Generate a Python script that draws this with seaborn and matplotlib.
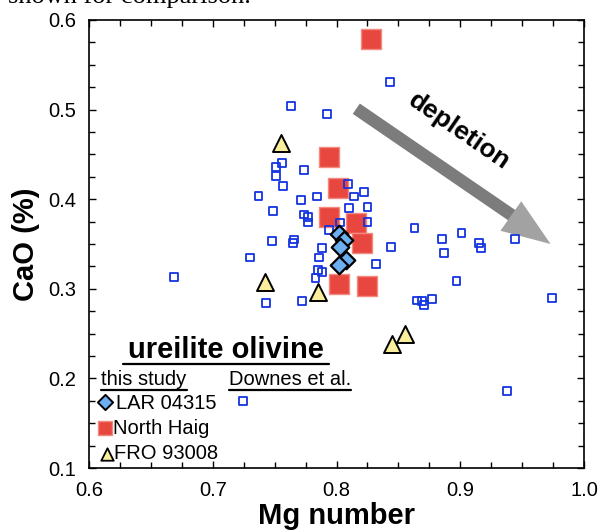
import matplotlib
matplotlib.use("Agg")
import matplotlib.pyplot as plt
import seaborn as sns
import pandas as pd
from matplotlib.ticker import MultipleLocator

# Downes et al. olivine cores
downes_mg = [0.843, 0.763, 0.792, 0.756, 0.751, 0.751, 0.774, 0.757, 0.737, 0.771,
             0.784, 0.809, 0.814, 0.822, 0.825, 0.810, 0.749, 0.774, 0.777, 0.777,
             0.794, 0.825, 0.803, 0.748, 0.766, 0.765, 0.788, 0.844, 0.730, 0.786,
             0.832, 0.785, 0.788, 0.783, 0.669, 0.743, 0.772, 0.863, 0.885, 0.901,
             0.887, 0.915, 0.917, 0.944, 0.897, 0.865, 0.869, 0.871, 0.877, 0.974,
             0.938]
downes_cao = [0.531, 0.504, 0.495, 0.440, 0.436, 0.426, 0.433, 0.415, 0.404, 0.399,
              0.403, 0.417, 0.403, 0.408, 0.391, 0.390, 0.387, 0.383, 0.380, 0.374,
              0.366, 0.375, 0.374, 0.353, 0.355, 0.351, 0.346, 0.347, 0.335, 0.335,
              0.328, 0.321, 0.319, 0.312, 0.313, 0.284, 0.286, 0.368, 0.356, 0.362,
              0.340, 0.351, 0.346, 0.356, 0.309, 0.287, 0.286, 0.282, 0.289, 0.290,
              0.186]

# this study
nh_mg = [0.828, 0.794, 0.801, 0.794, 0.816, 0.821, 0.802, 0.825]
nh_cao = [0.579, 0.447, 0.412, 0.380, 0.373, 0.351, 0.305, 0.303]

lar_mg = [0.802, 0.806, 0.803, 0.808, 0.802]
lar_cao = [0.361, 0.355, 0.347, 0.332, 0.327]

fro_mg = [0.755, 0.742, 0.785, 0.855, 0.845]
fro_cao = [0.463, 0.308, 0.296, 0.250, 0.238]

sns.set_style("ticks")
plt.rcParams["font.family"] = ["Liberation Sans", "DejaVu Sans"]
for k in ["text.color", "axes.labelcolor", "xtick.color", "ytick.color", "axes.edgecolor"]:
    plt.rcParams[k] = "black"

fig = plt.figure(figsize=(5.99, 5.31), dpi=100)
ax = fig.add_axes([89 / 599, 63 / 531, 495 / 599, 448 / 531])

BLUE = "#1434e0"
RED = "#e8473f"
LBLUE = "#6cb0f2"
YEL = "#f8ee9c"

sns.scatterplot(x=nh_mg, y=nh_cao, marker="s", s=210, color=RED,
                edgecolor="#f28a80", linewidth=1.0, ax=ax, zorder=2)
sns.scatterplot(x=downes_mg, y=downes_cao, marker="s", s=32, facecolor="none",
                edgecolor=BLUE, linewidth=1.3, ax=ax, zorder=3)
sns.scatterplot(x=lar_mg, y=lar_cao, marker="D", s=80, color=LBLUE,
                edgecolor="black", linewidth=1.6, ax=ax, zorder=4)
sns.scatterplot(x=fro_mg, y=fro_cao, marker="^", s=150, color=YEL,
                edgecolor="black", linewidth=1.4, ax=ax, zorder=5)

# depletion arrow: dark shaft, lighter head
ax.annotate("", xy=(0.946, 0.378), xytext=(0.816, 0.501),
            arrowprops=dict(arrowstyle="-", color="#7c7c7c", lw=9, capstyle="butt",
                            shrinkA=0, shrinkB=0), zorder=1)
ax.annotate("", xy=(0.973, 0.350), xytext=(0.936, 0.386),
            arrowprops=dict(arrowstyle="simple,head_width=2.6,head_length=3.5,tail_width=0.01",
                            mutation_scale=10, color="#a2a2a2", lw=0,
                            shrinkA=0, shrinkB=0), zorder=1)
ax.text(0.899, 0.476, "depletion", rotation=-34.5, rotation_mode="anchor",
        ha="center", va="center", fontsize=19, fontweight="bold")

ax.set_xlim(0.6, 1.0)
ax.set_ylim(0.1, 0.6)
ax.xaxis.set_major_locator(MultipleLocator(0.1))
ax.xaxis.set_minor_locator(MultipleLocator(0.025))
ax.yaxis.set_major_locator(MultipleLocator(0.1))
ax.yaxis.set_minor_locator(MultipleLocator(0.025))
ax.set_xticklabels([f"{v:.1f}" for v in ax.get_xticks()])
ax.set_yticklabels([f"{v:.1f}" for v in ax.get_yticks()])
ax.tick_params(which="both", direction="in", top=True, right=True, width=1.0,
               labelsize=14.5, pad=9)
ax.tick_params(which="major", length=5)
ax.tick_params(which="minor", length=4)
for sp in ax.spines.values():
    sp.set_linewidth(1.2)
    sp.set_visible(True)
ax.set_xlabel("Mg number", fontsize=21, fontweight="bold", labelpad=2)
ax.set_ylabel("CaO (%)", fontsize=21, fontweight="bold", labelpad=6)

# legend block
tr = ax.transAxes
ax.text(0.277, 0.246, "ureilite olivine", transform=tr, ha="center", va="baseline",
        fontsize=21, fontweight="bold")
ax.plot([0.069, 0.484], [0.233, 0.233], transform=tr, color="black", lw=1.6)
ax.text(0.025, 0.185, "this study", transform=tr, ha="left", va="baseline", fontsize=14.5)
ax.plot([0.025, 0.198], [0.174, 0.174], transform=tr, color="black", lw=1.6)
ax.text(0.283, 0.185, "Downes et al.", transform=tr, ha="left", va="baseline", fontsize=14.5)
ax.plot([0.283, 0.530], [0.174, 0.174], transform=tr, color="black", lw=1.6)

ax.scatter([0.032], [0.148], transform=tr, marker="D", s=60, color=LBLUE,
           edgecolor="black", linewidth=1.4, clip_on=False)
ax.text(0.054, 0.132, "LAR 04315", transform=tr, ha="left", va="baseline", fontsize=14.5)
ax.scatter([0.033], [0.089], transform=tr, marker="s", s=110, color=RED,
           edgecolor="#f28a80", linewidth=1.0, clip_on=False)
ax.text(0.049, 0.076, "North Haig", transform=tr, ha="left", va="baseline", fontsize=14.5)
ax.scatter([0.037], [0.032], transform=tr, marker="^", s=80, color=YEL,
           edgecolor="black", linewidth=1.3, clip_on=False)
ax.text(0.051, 0.020, "FRO 93008", transform=tr, ha="left", va="baseline", fontsize=14.5)
ax.scatter([0.311], [0.150], transform=tr, marker="s", s=32, facecolor="none",
           edgecolor=BLUE, linewidth=1.3)

# caption line of the source page, cut by the top edge
fig.text(0.013, 1 - 3 / 531, "shown for comparison.", ha="left", va="baseline",
         fontsize=19, family=["Liberation Serif", "DejaVu Serif"])

plt.savefig("out.png", dpi=100)
plt.close()
